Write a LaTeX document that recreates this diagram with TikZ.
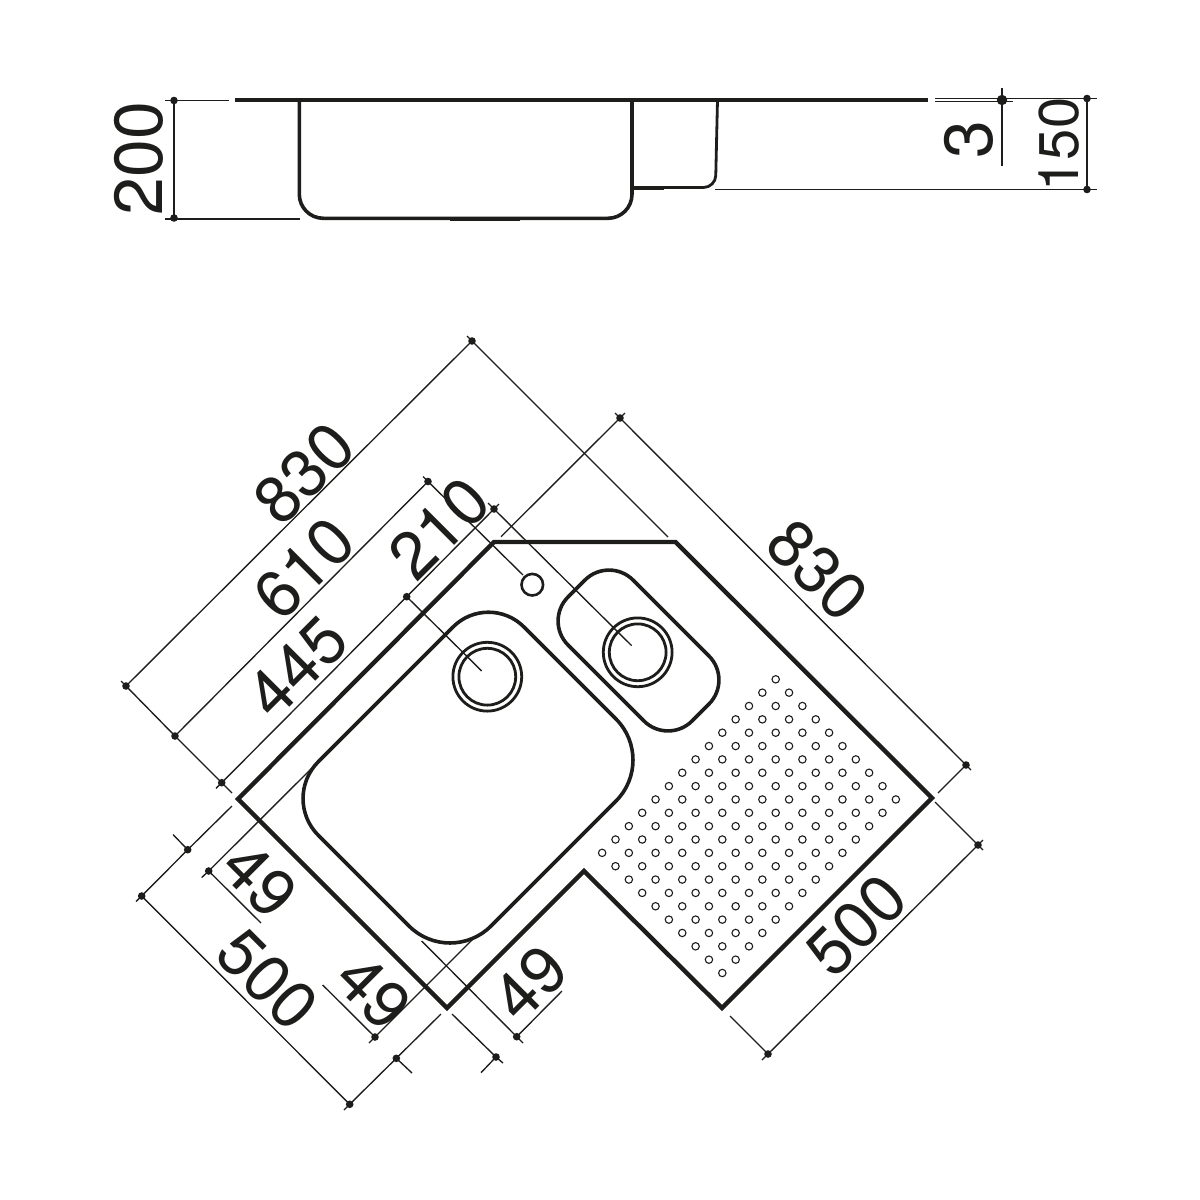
\documentclass[tikz,border=0pt]{standalone}
\usepackage{fontspec}
\setmainfont{TeX Gyre Heros}
\tikzset{
  px/.style={x=0.5pt,y=-0.5pt},
  heavy/.style={line width=2.2pt,draw=ink,line cap=butt,line join=miter},
  bowl/.style={line width=1.8pt,draw=ink},
  thin/.style={line width=0.68pt,draw=ink},
  hole/.style={line width=0.55pt,draw=ink},
  dim/.style={inner sep=0pt,text=ink,font=\fontsize{33}{33}\selectfont},
  dimside/.style={inner sep=0pt,text=ink,font=\fontsize{34}{34}\selectfont},
  dimsmall/.style={inner sep=0pt,text=ink,font=\fontsize{28}{28}\selectfont},
}
\definecolor{ink}{HTML}{1D1D1B}
\newcommand{\dimdot}[1]{\fill[ink] (#1) circle (1.9pt);}
\begin{document}
\begin{tikzpicture}[px]
\useasboundingbox (0,0) rectangle (1200,1200);
% ---------- side view
\draw[line width=2pt,draw=ink] (235,100.3) -- (927.5,100.3);
\draw[bowl,rounded corners=12pt] (299.3,100) -- (299.3,218.3) -- (632,218.3) -- (632,100);
\draw[bowl,line width=1.4pt,rounded corners=6pt] (717.5,100) -- (715.5,187.5) -- (632,187.5);
\draw[line width=2.4pt,draw=ink] (632,188) -- (664,188);
\draw[line width=1pt,draw=ink] (450,219.5) -- (520,219.5);
\coordinate (a1) at (174,100.5);
\coordinate (a2) at (174,218);
\draw[thin] (165,100.5) -- (229,100.5);
\draw[thin] (165,219) -- (300,219);
\draw[thin] (a1) -- (a2);
\dimdot{a1}\dimdot{a2}
\coordinate (b1) at (1002,100);
\coordinate (c1) at (1087,98.5);
\coordinate (c2) at (1087,189.5);
\draw[thin] (935,98.5) -- (1097,98.5);
\draw[thin] (935,101.7) -- (1013,101.7);
\draw[thin] (1002,88) -- (1002,166);
\draw[thin] (715,189.5) -- (1097,189.5);
\draw[thin] (c1) -- (c2);
\dimdot{c1}\dimdot{c2}
\fill[ink] (b1) circle (2.6pt);
\node[dimside,rotate=90] (t200) at (139,158.5) {200};
\node[dimside,rotate=90] (t3) at (969,140) {3};
\node[dimsmall,rotate=90] (t150) at (1059,144.5) {150};
% ---------- plan outline
\draw[heavy] (494,542) -- (675.5,542) -- (932,798) -- (722,1008) -- (584,871) -- (447,1008) -- (238,799) -- cycle;
% bowls
\draw[bowl,rounded corners=29pt] (572.5,675.5) -- (657,760) -- (450,967) [rounded corners=26pt] -- (281.5,798.5) [rounded corners=25pt] -- (488.5,591.5) -- cycle;
\draw[bowl,rounded corners=17pt] (609,556) -- (544,621) -- (668,745) -- (733,680) -- cycle;
% drains and tap hole
\coordinate (d1) at (487.3,676.7);
\coordinate (d2) at (637.7,652.3);
\coordinate (d3) at (532.3,584.7);
\foreach \c in {d1,d2}{
  \draw[line width=1.4pt,draw=ink] (\c) circle (17.2pt);
  \draw[line width=1.4pt,draw=ink] (\c) circle (14.2pt);
}
\draw[line width=1.3pt,draw=ink] (d3) circle (5.4pt);
% perforation
\foreach \i in {0,...,13}{\foreach \j in {0,...,9}{
  \draw[hole] ({775.7+(\j-\i)*13.35},{679.3+(\j+\i)*13.35}) circle (1.85pt);
}}
% ---------- dimension points
\coordinate (p830a) at (126,686);
\coordinate (p830b) at (472,341);
\coordinate (p610a) at (175,736);
\coordinate (p610b) at (428,481.5);
\coordinate (p445a) at (221.7,782.7);
\coordinate (p445b) at (406.7,596.7);
\coordinate (p210b) at (494,509);
\coordinate (q830a) at (620,418);
\coordinate (q830b) at (966,765);
\coordinate (q500a) at (978,845);
\coordinate (q500b) at (768,1054);
\coordinate (r500a) at (141.7,896);
\coordinate (r500b) at (349.7,1104.3);
\coordinate (r0a) at (187.7,849.7);
\coordinate (r0b) at (396.3,1058.3);
\coordinate (s49a) at (208.7,871);
\coordinate (s49b) at (375,1037);
\coordinate (s49c) at (516.7,1036.7);
\coordinate (s49d) at (496,1057);
% lines
\draw[thin] (p830a) -- (p830b);
\draw[thin] (121,681) -- (p830a) -- (p610a) -- (p445a) -- (232,793);
\draw[thin] (467,336) -- (p830b) -- (668,537);
\draw[thin] (p610a) -- (p610b);
\draw[thin] (423,476.5) -- (p610b) -- (523,575);
\draw[thin] (216,788.4) -- (p445a) -- (p445b) -- (p210b) -- (499,504);
\draw[thin] (p445b) -- (481.7,671);
\draw[thin] (488,503) -- (p210b) -- (631.7,645.7);
\draw[thin] (501,536.7) -- (q830a) -- (625,413);
\draw[thin] (615,413) -- (q830a) -- (q830b) -- (971,770);
\draw[thin] (q830b) -- (938,793);
\draw[thin] (935,802) -- (q500a) -- (983,850);
\draw[thin] (983,840) -- (q500a) -- (q500b) -- (762,1060);
\draw[thin] (q500b) -- (730,1016);
\draw[thin] (136,901.5) -- (r500a) -- (r0a) -- (232,806);
\draw[thin] (r500a) -- (r500b) -- (344,1110);
\draw[thin] (r500b) -- (r0b) -- (441,1014);
\draw[thin] (r0b) -- (412,1073);
\draw[thin] (r0a) -- (173,834.5);
\draw[thin] (201.7,877.5) -- (s49a) -- (316,764);
\draw[thin] (s49a) -- (261,923);
\draw[thin] (369,1043) -- (s49b) -- (476,936);
\draw[thin] (s49b) -- (322.7,985);
\draw[thin] (421.7,941) -- (s49c) -- (523,1043);
\draw[thin] (s49c) -- (562,991);
\draw[thin] (452,1014) -- (s49d) -- (503,1063);
\draw[thin] (s49d) -- (481,1072.7);
\foreach \c in {p830a,p830b,p610a,p610b,p445a,p445b,p210b,q830a,q830b,q500a,q500b,r500a,r500b,r0a,r0b,s49a,s49b,s49c,s49d}{\dimdot{\c}}
% ---------- labels
\node[dim,rotate=45] (t830a) at (304,473) {830};
\node[dim,rotate=45] (t610) at (304,568) {610};
\node[dim,rotate=45] (t445) at (297,667) {445};
\node[dim,rotate=45] (t210) at (439,528) {210};
\node[dim,rotate=-45] (t830b) at (818,570) {830};
\node[dim,rotate=45] (t500b) at (856,925) {500};
\node[dim,rotate=-45] (t500a) at (268,979) {500};
\node[dim,rotate=-45] (t49a) at (260,880) {49};
\node[dim,rotate=-45] (t49b) at (374,992) {49};
\node[dim,rotate=45] (t49c) at (530,983) {49};
\end{tikzpicture}
\end{document}
